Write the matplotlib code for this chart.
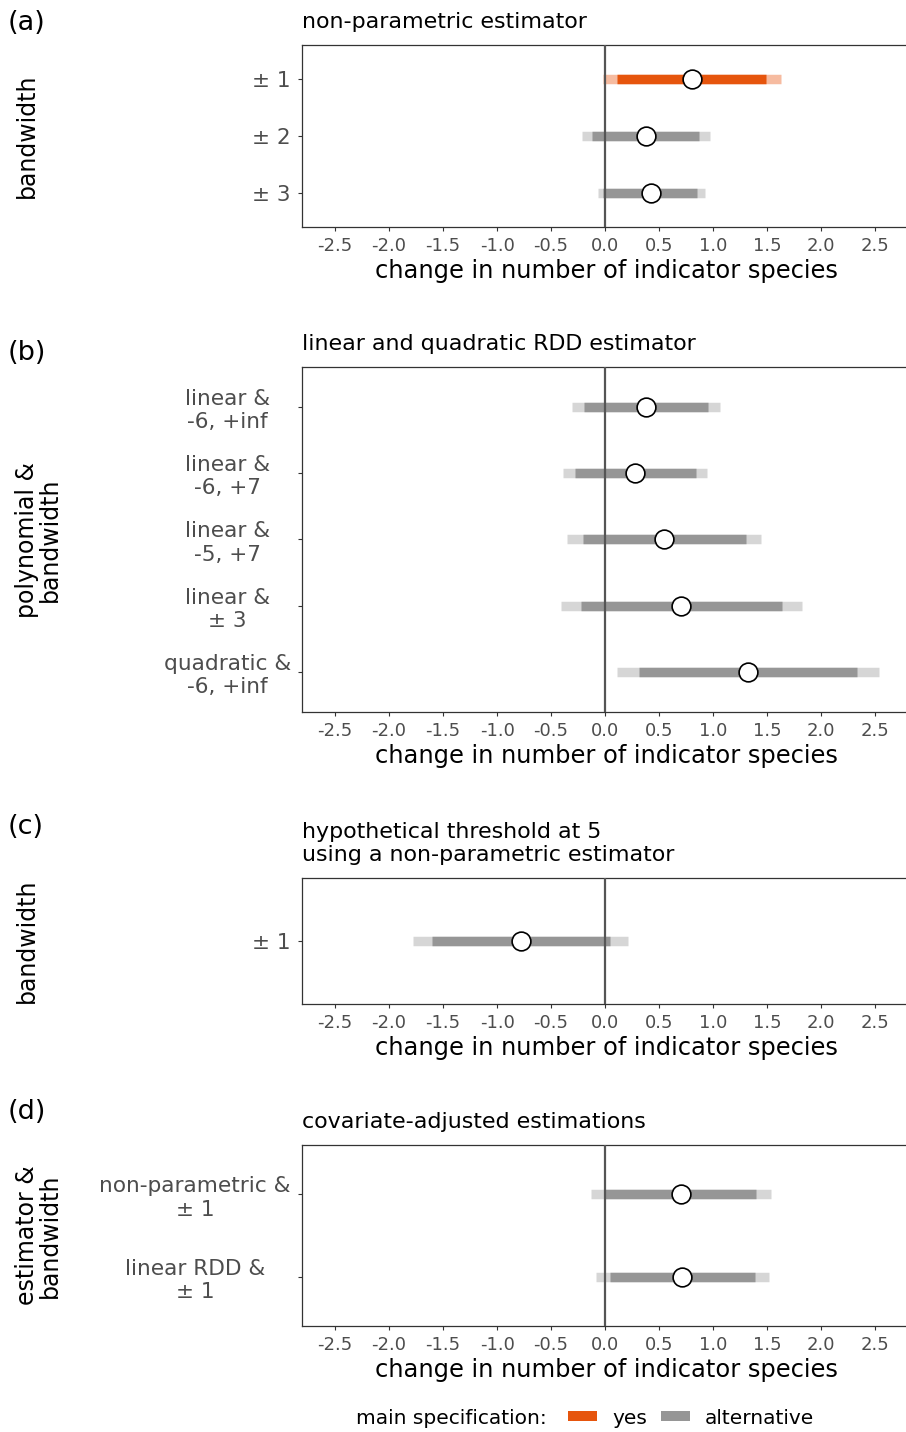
import matplotlib
matplotlib.use("Agg")
import matplotlib.pyplot as plt
from matplotlib.lines import Line2D

plt.rcParams['font.family'] = ['DejaVu Sans']

# ---------------- data ----------------
# panel (a): non-parametric estimator
a_labels = ["± 1", "± 2", "± 3"]
a_est = [0.802, 0.376, 0.426]
a_lo95 = [-0.021, -0.215, -0.070]
a_hi95 = [1.626, 0.971, 0.928]
a_lo90 = [0.114, -0.117, -0.016]
a_hi90 = [1.486, 0.873, 0.848]
a_main = [True, False, False]

# panel (b): linear and quadratic RDD estimator
b_labels = ["linear &\n-6, +inf", "linear &\n-6, +7", "linear &\n-5, +7",
            "linear &\n± 3", "quadratic &\n-6, +inf"]
b_est = [0.379, 0.281, 0.546, 0.706, 1.320]
b_lo95 = [-0.303, -0.386, -0.354, -0.407, 0.111]
b_hi95 = [1.065, 0.947, 1.446, 1.826, 2.532]
b_lo90 = [-0.194, -0.278, -0.206, -0.225, 0.309]
b_hi90 = [0.956, 0.839, 1.305, 1.641, 2.335]
b_main = [False, False, False, False, False]

# panel (c): hypothetical threshold at 5
c_labels = ["± 1"]
c_est = [-0.781]
c_lo95 = [-1.774]
c_hi95 = [0.216]
c_lo90 = [-1.604]
c_hi90 = [0.047]
c_main = [False]

# panel (d): covariate-adjusted estimations
d_labels = ["non-parametric &\n± 1", "linear RDD &\n± 1"]
d_est = [0.700, 0.712]
d_lo95 = [-0.130, -0.089]
d_hi95 = [1.533, 1.518]
d_lo90 = [0.000, 0.047]
d_hi90 = [1.398, 1.385]
d_main = [False, False]

x_ticks = [-2.5, -2.0, -1.5, -1.0, -0.5, 0.0, 0.5, 1.0, 1.5, 2.0, 2.5]

panels = [
    dict(letter="(a)", title="non-parametric estimator", ylab="bandwidth",
         labels=a_labels, est=a_est, lo95=a_lo95, hi95=a_hi95, lo90=a_lo90, hi90=a_hi90,
         main=a_main, top=45, bottom=227, letter_y=23),
    dict(letter="(b)", title="linear and quadratic RDD estimator", ylab="polynomial &\nbandwidth",
         labels=b_labels, est=b_est, lo95=b_lo95, hi95=b_hi95, lo90=b_lo90, hi90=b_hi90,
         main=b_main, top=367, bottom=712, letter_y=353),
    dict(letter="(c)", title="hypothetical threshold at 5\nusing a non-parametric estimator",
         ylab="bandwidth",
         labels=c_labels, est=c_est, lo95=c_lo95, hi95=c_hi95, lo90=c_lo90, hi90=c_hi90,
         main=c_main, top=878, bottom=1004, letter_y=827),
    dict(letter="(d)", title="covariate-adjusted estimations", ylab="estimator &\nbandwidth",
         labels=d_labels, est=d_est, lo95=d_lo95, hi95=d_hi95, lo90=d_lo90, hi90=d_hi90,
         main=d_main, top=1145, bottom=1326, letter_y=1112),
]

ORANGE = "#E6550D"
ORANGE_L = "#F6BBA0"
GREY = "#969696"
GREY_L = "#D6D6D6"
TXT = "#4D4D4D"

W, H = 906, 1432
fig = plt.figure(figsize=(W / 100, H / 100), dpi=100)

x_left_px, x_right_px = 301.5, 912.0
xlim = (-2.81, 2.84)
axes = []

for p in panels:
    n = len(p["labels"])
    ax = fig.add_axes([x_left_px / W, 1 - p["bottom"] / H,
                       (x_right_px - x_left_px) / W, (p["bottom"] - p["top"]) / H])
    axes.append(ax)
    ys = list(range(1, n + 1))
    for y, e, l95, h95, l90, h90, m in zip(ys, p["est"], p["lo95"], p["hi95"],
                                           p["lo90"], p["hi90"], p["main"]):
        ax.plot([l95, h95], [y, y], color=ORANGE_L if m else GREY_L, lw=6.8,
                solid_capstyle="butt", zorder=2)
        ax.plot([l90, h90], [y, y], color=ORANGE if m else GREY, lw=6.8,
                solid_capstyle="butt", zorder=3)
        ax.plot([e], [y], marker="o", ms=13.5, mfc="white", mec="black", mew=1.2,
                ls="none", zorder=5)
    ax.axvline(0, color="#555555", lw=1.6, zorder=4)
    ax.set_xlim(*xlim)
    ax.set_ylim(n + 0.6, 0.4)
    ax.set_yticks(ys)
    ax.set_yticklabels(p["labels"], fontsize=15.6, color=TXT)
    for lbl in ax.get_yticklabels():
        lbl.set_multialignment("center")
        lbl.set_horizontalalignment("center")
    ax.set_xticks(x_ticks)
    ax.set_xticklabels([f"{v:.1f}" for v in x_ticks], fontsize=13, color=TXT)
    ax.tick_params(axis="both", length=3, width=0.8, color="#333333", pad=4)
    ax.set_xlabel("change in number of indicator species", fontsize=17.4,
                  color="black", labelpad=3)
    for s in ax.spines.values():
        s.set_color("#333333")
        s.set_linewidth(0.9)
    ax.text(0, 1 + 13 / (p["bottom"] - p["top"]), p["title"], transform=ax.transAxes,
            ha="left", va="bottom", fontsize=15.9, color="black")
    fig.text(8 / W, 1 - p["letter_y"] / H, p["letter"], fontsize=19.5,
             ha="left", va="center")
    cy = (p["top"] + p["bottom"]) / 2
    fig.text(15 / W, 1 - cy / H, p["ylab"], rotation=90, fontsize=17,
             ha="left", va="center", multialignment="center", linespacing=0.95)

# center y tick labels within the column of the widest label
fig.canvas.draw()
renderer = fig.canvas.get_renderer()
for ax in axes:
    labels = ax.get_yticklabels()
    maxw = max(l.get_window_extent(renderer).width for l in labels)
    pad_px = 6.5 + maxw / 2
    ax.tick_params(axis="y", pad=pad_px * 72 / 100)

# legend
fig.text(356 / W, 1 - 1418 / H, "main specification:", fontsize=14.5,
         ha="left", va="center")
handles = [Line2D([], [], color=ORANGE, lw=7.2, solid_capstyle="butt"),
           Line2D([], [], color=GREY, lw=7.2, solid_capstyle="butt")]
fig.legend(handles, ["yes", "alternative"], loc="center left",
           bbox_to_anchor=(568 / W, 1 - 1418 / H), frameon=False, ncol=2,
           fontsize=14.5, handlelength=1.45, handletextpad=0.75,
           columnspacing=0.68, borderpad=0, borderaxespad=0)

fig.savefig("out.png", dpi=100)
